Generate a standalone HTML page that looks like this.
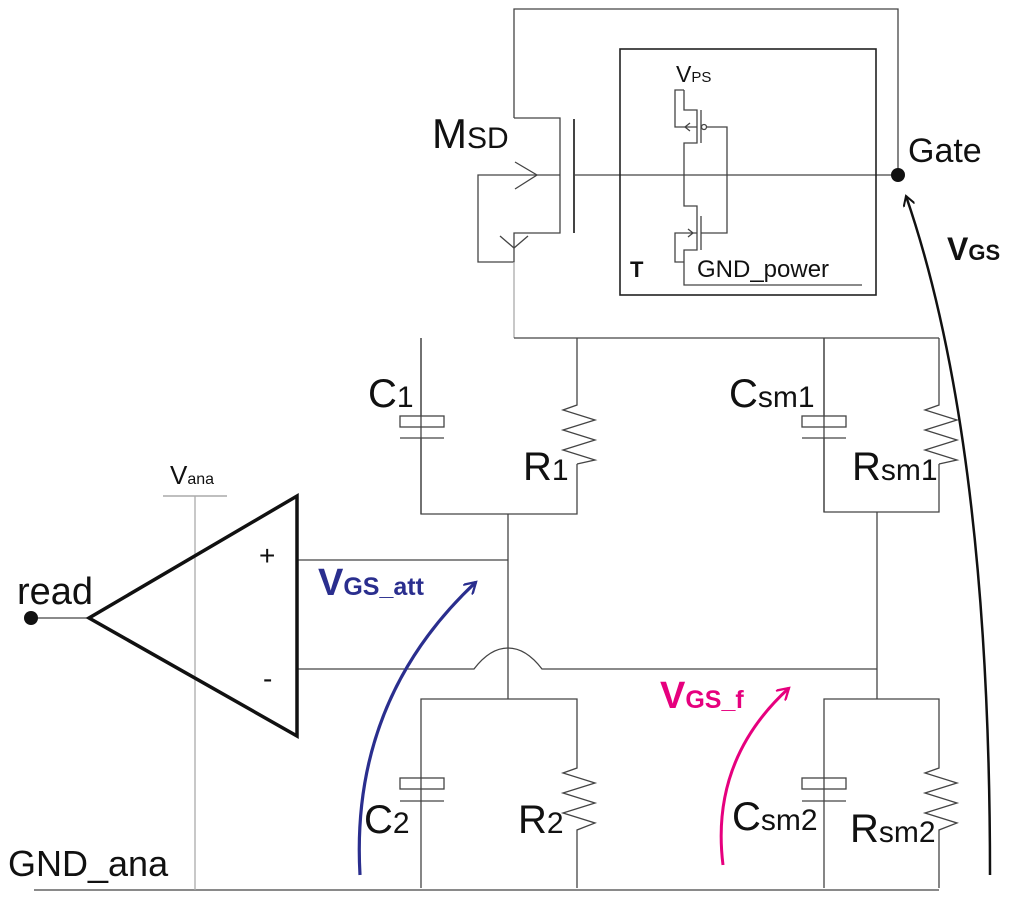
<!DOCTYPE html>
<html><head><meta charset="utf-8"><style>
html,body{margin:0;padding:0;background:#fff}
svg{display:block}
text{font-family:"Liberation Sans",sans-serif;fill:#111}
</style></head><body>
<svg width="1024" height="897" viewBox="0 0 1024 897" xmlns="http://www.w3.org/2000/svg">
<defs>
<marker id="ab" viewBox="0 0 12 12" refX="10" refY="6" markerWidth="12" markerHeight="12" markerUnits="userSpaceOnUse" orient="auto"><path d="M0,0 L10,6 L0,12" fill="none" stroke="#111" stroke-width="2"/></marker>
<marker id="abl" viewBox="0 0 12 12" refX="10" refY="6" markerWidth="14" markerHeight="14" markerUnits="userSpaceOnUse" orient="auto"><path d="M0,0 L10,6 L0,12" fill="none" stroke="#2a2e8e" stroke-width="2"/></marker>
<marker id="apk" viewBox="0 0 12 12" refX="10" refY="6" markerWidth="14" markerHeight="14" markerUnits="userSpaceOnUse" orient="auto"><path d="M0,0 L10,6 L0,12" fill="none" stroke="#e6007e" stroke-width="2"/></marker>
</defs>
<g fill="none" stroke="#444" stroke-width="1.3">
<!-- top loop -->
<polyline points="514,118 514,9 898,9 898,175"/>
<!-- MSD -->
<polyline points="514,118 560,118 560,233 514,233 514,262 478,262 478,175 560,175"/>
<line x1="574" y1="119" x2="574" y2="233" stroke-width="2"/>
<line x1="574" y1="175" x2="898" y2="175"/>
<polyline points="515,162 537,175 515,189"/>
<polyline points="500,236 514,248 528,236"/>
<line x1="514" y1="262" x2="514" y2="338" stroke="#aaa"/>
<!-- T box -->
<rect x="620" y="49" width="256" height="246" stroke="#222" stroke-width="1.6"/>
<!-- inverter -->
<polyline points="684,90 675,90 675,127 697,127"/>
<polyline points="684,90 684,110 697,110 697,143 684,143 684,206 697,206 697,250 684,250 684,285 862,285"/>
<line x1="701" y1="110" x2="701" y2="143"/>
<line x1="701" y1="216" x2="701" y2="250"/>
<circle cx="704" cy="127" r="2.5"/>
<polyline points="707,127 727,127 727,233 701,233"/>
<polyline points="697,233 675,233 675,262 684,262"/>
<polyline points="690,123 685,127 690,131"/>
<polyline points="688,229 693,233 688,237"/>
<!-- RC network -->
<line x1="514" y1="338" x2="939" y2="338"/>
<polyline points="421,338 421,514 577,514 577,464"/>
<polyline points="577,338 577,405 563,410 595,420 563,430 595,440 563,450 595,460 577,464"/>
<polyline points="824,338 824,512 939,512 939,464"/>
<polyline points="939,338 939,405 925,410 957,420 925,430 957,440 925,450 957,460 939,464"/>
<line x1="421" y1="338" x2="421" y2="416"/><line x1="421" y1="438" x2="421" y2="514"/>
<rect x="400" y="416" width="44" height="11"/><line x1="400" y1="438" x2="444" y2="438"/>
<line x1="824" y1="338" x2="824" y2="416"/><line x1="824" y1="438" x2="824" y2="512"/>
<rect x="802" y="416" width="44" height="11"/><line x1="802" y1="438" x2="846" y2="438"/>
<line x1="508" y1="514" x2="508" y2="699"/>
<line x1="877" y1="512" x2="877" y2="699"/>
<line x1="297" y1="560" x2="508" y2="560"/>
<path d="M297,669 L474,669 Q490,648 508,648 Q526,648 542,669 L877,669"/>
<!-- bottom RC -->
<polyline points="421,888 421,699 577,699 577,768 563,773 595,783 563,793 595,803 563,813 595,823 577,830 577,888"/>
<rect x="400" y="778" width="44" height="11"/><line x1="400" y1="801" x2="444" y2="801"/>
<polyline points="824,888 824,699 939,699 939,768 925,773 957,783 925,793 957,803 925,813 957,823 939,830 939,888"/>
<rect x="802" y="778" width="44" height="11"/><line x1="802" y1="801" x2="846" y2="801"/>
<line x1="34" y1="890" x2="939" y2="890"/>
<!-- opamp -->
<line x1="163" y1="496" x2="227" y2="496" stroke="#999"/>
<line x1="195" y1="496" x2="195" y2="890" stroke="#aaa"/>
<line x1="31" y1="618" x2="89" y2="618"/>
</g>
<polygon points="297,496 297,736 89,618" fill="none" stroke="#111" stroke-width="3.5"/>
<circle cx="31" cy="618" r="7" fill="#111"/>
<circle cx="898" cy="175" r="7" fill="#111"/>
<!-- arrows -->
<path d="M990,875 Q990,440 906,196" fill="none" stroke="#111" stroke-width="2.5" marker-end="url(#ab)"/>
<path d="M360,875 Q350,700 476,582" fill="none" stroke="#2a2e8e" stroke-width="3.2" marker-end="url(#abl)"/>
<path d="M723,865 Q710,760 789,688" fill="none" stroke="#e6007e" stroke-width="3" marker-end="url(#apk)"/>
<!-- labels -->
<text x="908" y="162" font-size="34">Gate</text>
<text x="947" y="260" font-size="32" font-weight="bold">V<tspan font-size="22">GS</tspan></text>
<text x="432" y="148" font-size="42">M<tspan font-size="30">SD</tspan></text>
<text x="676" y="82" font-size="23">V<tspan font-size="15">PS</tspan></text>
<text x="630" y="277" font-size="22" font-weight="bold">T</text>
<text x="697" y="277" font-size="24">GND_power</text>
<text x="368" y="407" font-size="40">C<tspan font-size="30">1</tspan></text>
<text x="523" y="480" font-size="40">R<tspan font-size="30">1</tspan></text>
<text x="729" y="407" font-size="40">C<tspan font-size="30">sm1</tspan></text>
<text x="852" y="480" font-size="40">R<tspan font-size="30">sm1</tspan></text>
<text x="364" y="833" font-size="40">C<tspan font-size="30">2</tspan></text>
<text x="518" y="833" font-size="40">R<tspan font-size="30">2</tspan></text>
<text x="732" y="830" font-size="40">C<tspan font-size="30">sm2</tspan></text>
<text x="850" y="842" font-size="40">R<tspan font-size="30">sm2</tspan></text>
<text x="170" y="484" font-size="26">V<tspan font-size="16" dy="0">ana</tspan></text>
<text x="259" y="565" font-size="28">+</text>
<text x="263" y="688" font-size="28">-</text>
<text x="17" y="604" font-size="38">read</text>
<text x="8" y="876" font-size="36">GND_ana</text>
<text x="318" y="595" font-size="38" font-weight="bold" style="fill:#2a2e8e">V<tspan font-size="25">GS_att</tspan></text>
<text x="660" y="708" font-size="38" font-weight="bold" style="fill:#e6007e">V<tspan font-size="25">GS_f</tspan></text>
</svg>
</body></html>
